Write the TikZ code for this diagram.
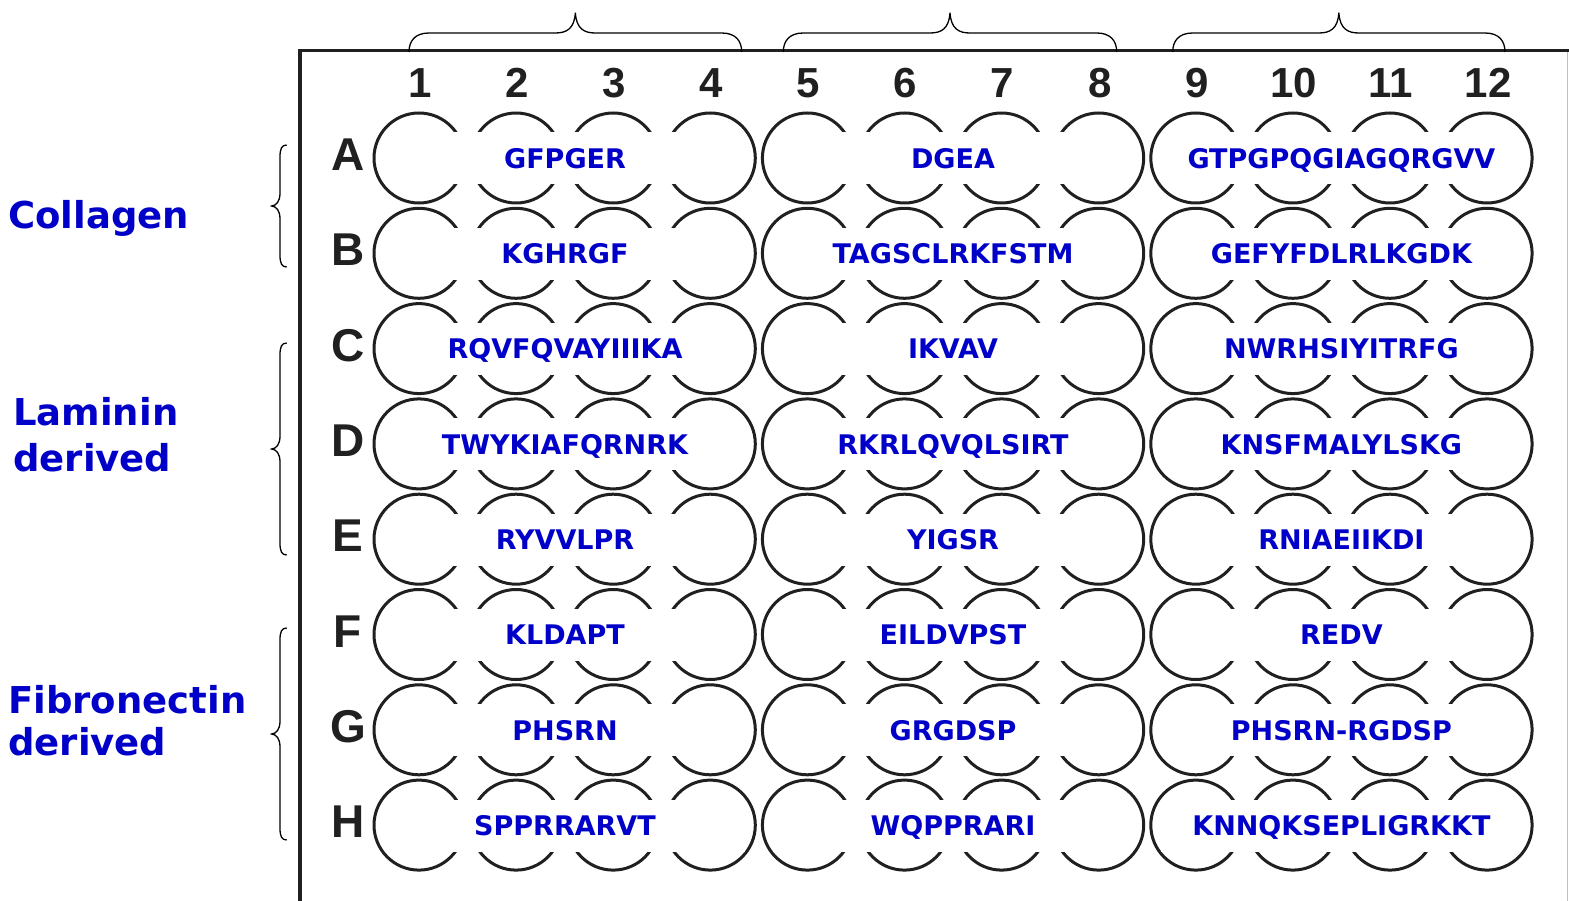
\documentclass[tikz,border=0pt]{standalone}
\usepackage{fontspec}
\newfontfamily\lblfont{DejaVu Sans}
\newfontfamily\axfont{Liberation Sans}
\definecolor{lblue}{RGB}{0,0,200}
\definecolor{inkc}{RGB}{32,32,32}
\newcommand\mytopbrace[2]{%
  \draw[brc] (#1,52) .. controls (#1,41) and ({#1+6},33) .. ({#1+20},33)
    -- ({(#1+#2)/2-20},33) .. controls ({(#1+#2)/2-9},33) and ({(#1+#2)/2-1},29) .. ({(#1+#2)/2},12.7)
    .. controls ({(#1+#2)/2+1},29) and ({(#1+#2)/2+9},33) .. ({(#1+#2)/2+20},33)
    -- ({#2-20},33) .. controls ({#2-6},33) and (#2,41) .. (#2,52);}
\newcommand\myleftbrace[2]{%
  \draw[brc] (286.7,#1) .. controls (281.5,#1) and (280,{#1+4}) .. (280,{#1+12})
    -- (280,{(#1+#2)/2-13}) .. controls (280,{(#1+#2)/2-4}) and (276,{(#1+#2)/2-0.5}) .. (271.7,{(#1+#2)/2})
    .. controls (276,{(#1+#2)/2+0.5}) and (280,{(#1+#2)/2+4}) .. (280,{(#1+#2)/2+13})
    -- (280,{#2-12}) .. controls (280,{#2-4}) and (281.5,#2) .. (286.7,#2);}
\begin{document}
\begin{tikzpicture}[x=1pt,y=-1pt,
  well/.style={circle, draw=inkc, line width=3pt, minimum size=90pt, inner sep=0pt},
  pep/.style={fill=white, inner sep=0pt, minimum width=360pt, minimum height=52pt,
    text height=19.7pt, text depth=0pt, text=lblue,
    font=\lblfont\bfseries\fontsize{27}{31}\selectfont},
  collbl/.style={text=inkc, inner sep=0pt, anchor=base,
    font=\axfont\bfseries\fontsize{42}{46}\selectfont},
  rowlbl/.style={text=inkc, inner sep=0pt, anchor=base,
    font=\axfont\bfseries\fontsize{46}{50}\selectfont},
  grp/.style={text=lblue, inner sep=0pt, anchor=base west,
    font=\lblfont\bfseries\fontsize{37}{44}\selectfont},
  brc/.style={line width=1.3pt, black}]
\useasboundingbox[fill=white] (0,0) rectangle (1569,901);
% plate outline
\draw[inkc, line width=3.5pt, line join=miter] (300,901) -- (300,50.5) -- (1569,50.5);
\draw[black!25, line width=1pt] (1567.5,52) -- (1567.5,901);
% wells
\foreach \r [count=\ri from 0] in {A,B,C,D,E,F,G,H}{
  \foreach \c in {1,...,12}{
    \node[well] (w\r\c) at ({419+(\c-1)*97.1},{158+\ri*95.3}) {};
  }
  \node[rowlbl] (row\r) at (348,{158+\ri*95.3+12.5}) {\r};
}
% column numbers
\foreach \c in {1,...,12}{
  \node[collbl] (col\c) at ({420+(\c-1)*97.1},98) {\c};
}
% peptide labels
\foreach \r/\pa/\pb/\pc [count=\ri from 0] in {
  A/GFPGER/DGEA/GTPGPQGIAGQRGVV,
  B/KGHRGF/TAGSCLRKFSTM/GEFYFDLRLKGDK,
  C/RQVFQVAYIIIKA/IKVAV/NWRHSIYITRFG,
  D/TWYKIAFQRNRK/RKRLQVQLSIRT/KNSFMALYLSKG,
  E/RYVVLPR/YIGSR/RNIAEIIKDI,
  F/KLDAPT/EILDVPST/REDV,
  G/PHSRN/GRGDSP/PHSRN-RGDSP,
  H/SPPRRARVT/WQPPRARI/KNNQKSEPLIGRKKT}{
  \node[pep] (p\r1) at (565,{158.5+\ri*95.3}) {\pa};
  \node[pep] (p\r2) at (953,{158.5+\ri*95.3}) {\pb};
  \node[pep] (p\r3) at (1341.4,{158.5+\ri*95.3}) {\pc};
}
% top braces
\mytopbrace{409}{741.7}
\mytopbrace{783.3}{1116.7}
\mytopbrace{1172.7}{1505}
% left braces
\myleftbrace{145}{267}
\myleftbrace{343}{555}
\myleftbrace{628}{840}
% group labels
\node[grp] (gcol) at (8,229) {Collagen};
\node[grp] (glam1) at (13,425) {Laminin};
\node[grp] (glam2) at (13,471.7) {derived};
\node[grp] (gfib1) at (8,713.3) {Fibronectin};
\node[grp] (gfib2) at (8,755.7) {derived};
\end{tikzpicture}
\end{document}
